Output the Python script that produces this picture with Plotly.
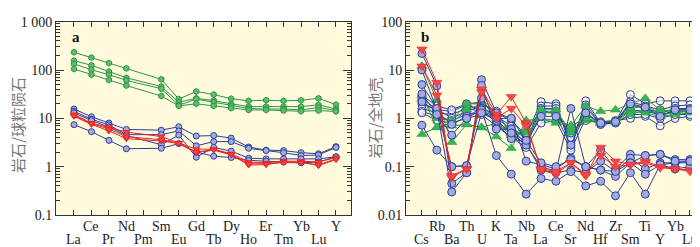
import plotly.graph_objects as go

# ---------------- Panel a: chondrite-normalised REE ----------------
ree = ["La", "Ce", "Pr", "Nd", "Pm", "Sm", "Eu", "Gd", "Tb", "Dy", "Ho", "Er", "Tm", "Yb", "Lu", "Y"]

a_green = [
    [233, 181, 139, 108, None, 64, 25, 36, 31, 25.5, 23, 23.7, 23, 23.7, 26, 19.2],
    [156, 125, 93, 69, None, 45.5, 21.6, 26, 23.3, 20, 17.5, 17.5, 17.5, 17.5, 19, 15.6],
    [134, 101, 80, 61, None, 41, 18.7, 25, 21.6, 18.1, 16, 15.6, 15.6, 14.9, 16.8, 14.5],
    [105, 80, 62, 47.6, None, 29, 18.1, 20, 18.1, 16.3, 14.9, 14.9, 14.5, 14, 14.5, 13.9],
]
a_blue = [
    [15.6, 10.8, 8.0, 5.9, None, 5.7, 6.7, 4.3, 4.4, 3.9, 2.55, 2.2, 2.15, 1.95, 1.85, 2.6],
    [14.0, 9.6, 7.3, 4.6, None, 4.6, 5.5, 2.7, 3.3, 3.3, 2.4, 2.15, 1.95, 1.7, 1.75, 2.5],
    [13.0, 9.0, 6.6, 4.4, None, 2.85, 4.5, 1.57, 2.5, 2.1, 1.5, 1.45, 1.45, 1.45, 1.45, 1.6],
    [7.4, 5.3, 3.5, 2.35, None, 2.4, 3.0, 2.0, 1.65, 1.55, 1.35, 1.3, 1.25, 1.2, 1.25, 1.6],
]
a_red = [
    [12.0, 8.0, 6.5, 5.2, None, 4.2, 3.1, 2.3, 2.3, 1.85, 1.25, 1.2, 1.3, 1.3, 1.25, 1.55],
    [11.0, 7.5, 5.5, 3.8, None, 3.4, 3.0, 1.95, 2.2, 1.75, 1.08, 1.1, 1.25, 1.25, 1.05, 1.4],
    [11.5, 7.8, 6.0, 4.2, None, 3.6, 3.1, 2.0, 2.25, 1.8, 1.15, 1.15, 1.22, 1.2, 1.1, 1.45],
]
a_ticks = [0.1, 1, 10, 100, 1000]
a_ticktext = ["0.1", "1", "10", "100", "1 000"]

# ---------------- Panel b: bulk-crust normalised spider ----------------
elems = ["Cs", "Rb", "Ba", "Th", "U", "K", "Ta", "Nb", "La", "Ce", "Sr", "Nd", "Hf", "Zr", "Sm", "Ti", "Y", "Yb", "Lu"]

b_green = [
    [12, 2.4, 0.32, 0.75, 0.65, 0.42, 0.24, 0.9, 1.0, 0.8, 0.7, 1.8, 1.4, 1.5, 2.0, 2.6, 1.5, 1.4, 1.6],
    [3.0, 0.65, 0.7, 0.75, 0.65, 0.8, 0.45, 0.55, 1.5, 1.5, 0.5, 0.9, 0.8, 0.85, 1.4, 1.3, 1.1, 1.2, 1.3],
    [0.47, 0.65, 0.8, 1.5, 2.0, 0.8, 0.5, 0.6, 1.3, 1.3, 0.6, 1.2, 0.8, 0.85, 1.2, 1.5, 1.2, 1.3, 1.4],
    [2.5, 1.0, 0.9, 2.0, 2.2, 1.2, 0.5, 0.5, 1.0, 0.9, 0.7, 1.0, 0.85, 0.9, 1.6, 1.8, 1.3, 1.5, 1.5],
]
b_blue_open = [
    [2.0, 1.5, 1.4, 1.9, 1.5, 1.3, 0.9, 0.45, 2.2, 2.0, 0.25, 2.3, 0.8, 0.85, 3.1, 2.0, 2.3, 2.3, 2.3],
    [1.6, 1.3, 1.2, 1.6, 1.4, 1.1, 0.7, 0.35, 1.8, 1.8, 0.3, 1.9, 0.78, 0.85, 2.2, 1.8, 1.5, 1.8, 1.9],
    [2.5, 1.6, 1.0, 1.4, 1.8, 1.0, 0.6, 0.3, 1.6, 1.6, 0.35, 1.7, 0.75, 0.82, 1.9, 1.6, 1.3, 1.6, 1.6],
    [1.4, 1.1, 0.9, 1.2, 1.3, 0.9, 0.5, 0.28, 1.3, 1.4, 0.4, 1.2, 0.8, 0.88, 1.5, 1.4, 1.2, 1.4, 1.4],
    [3.0, 1.8, 1.5, 2.0, 2.0, 1.4, 0.45, 0.5, 1.5, 1.2, 0.5, 0.9, 0.85, 0.9, 1.0, 1.1, 0.7, 1.0, 1.1],
    [1.3, 0.9, 0.8, 1.0, 1.2, 0.7, 0.4, 0.25, 0.8, 0.9, 0.22, 1.0, 0.75, 0.8, 1.2, 1.2, 1.0, 1.2, 1.2],
]
b_blue_fill = [
    [2.2, 1.4, 0.75, 1.1, 1.6, 0.8, 0.38, 0.32, 1.1, 1.1, 0.28, 1.3, 0.8, 0.85, 2.0, 1.7, 1.1, 1.5, 1.5],
    [22, 4.7, 0.045, 0.075, 6.3, 1.3, 1.0, 0.13, 0.11, 0.09, 0.15, 0.1, 0.22, 0.09, 0.18, 0.17, 0.18, 0.14, 0.14],
    [10, 1.5, 0.03, 0.075, 4.8, 0.6, 0.6, 0.3, 0.085, 0.075, 0.085, 0.075, 0.13, 0.08, 0.15, 0.09, 0.12, 0.12, 0.12],
    [5.0, 1.6, 0.1, 0.105, 2.6, 0.9, 0.5, 0.28, 0.1, 0.08, 1.6, 0.1, 0.085, 0.063, 0.12, 0.07, 0.11, 0.09, 0.1],
    [3.2, 1.2, 0.45, 1.0, 1.5, 0.17, 0.07, 0.027, 0.057, 0.05, 0.079, 0.04, 0.05, 0.025, 0.075, 0.027, 0.11, 0.12, 0.13],
    [0.72, 0.22, 0.1, 0.105, 1.3, 1.0, 1.0, 0.35, 0.12, 0.1, 0.14, 0.1, 0.085, 0.08, 0.12, 0.17, 0.18, 0.13, 0.13],
]
b_red = [
    [27, 5.5, 0.06, 0.09, 4.0, 1.2, 2.8, 0.8, 0.085, 0.07, 0.12, 0.065, 0.25, 0.13, 0.11, 0.13, 0.1, 0.09, 0.085],
    [12, 3.0, 0.065, 0.09, 3.5, 1.0, 1.6, 0.7, 0.09, 0.08, 0.12, 0.07, 0.17, 0.1, 0.11, 0.12, 0.095, 0.09, 0.08],
]
b_ticks = [0.01, 0.1, 1, 10, 100]
b_ticktext = ["0.01", "0.1", "1", "10", "100"]

GREEN_L, GREEN_F = "#2E9447", "#5DBB6A"
BLUE_L, BLUE_F = "#2B3C9C", "#A3ACDE"
RED_L, RED_F = "#E82525", "#F0474A"
BG = "#FFFBDC"
AX = "#333333"
SERIF = "Liberation Serif"


def minor_vals(decades):
    return [d * m for d in decades[:-1] for m in range(2, 10)]


fig = go.Figure()


def add(xs, ys, xa, ya, lc, fc, sym, size, lw=1.0, mlw=1.0):
    fig.add_trace(go.Scatter(
        x=xs, y=ys, xaxis=xa, yaxis=ya, mode="lines+markers", connectgaps=True,
        line=dict(color=lc, width=lw),
        marker=dict(symbol=sym, size=size, color=fc, line=dict(color=lc, width=mlw)),
        showlegend=False, hoverinfo="skip", cliponaxis=False))


ia = list(range(len(ree)))
for s in a_green:
    add(ia, s, "x", "y", GREEN_L, GREEN_F, "hexagon", 6)
for s in a_blue:
    add(ia, s, "x", "y", BLUE_L, BLUE_F, "circle", 6)
for s in a_red:
    add(ia, s, "x", "y", RED_L, RED_F, "triangle-down", 6)

ib = list(range(len(elems)))
for s in b_blue_open:
    add(ib, s, "x2", "y2", BLUE_L, "rgba(255,255,255,0.6)", "circle", 8)
for s in b_green:
    add(ib, s, "x2", "y2", GREEN_L, "#35B556", "triangle-up", 9, mlw=0.5)
for s in b_blue_fill:
    add(ib, s, "x2", "y2", BLUE_L, BLUE_F, "circle", 8)
for s in b_red:
    add(ib, s, "x2", "y2", RED_L, RED_F, "triangle-down", 9, mlw=0.5)

yb, yt = 1 - 213 / 247, 1 - 7 / 247

common_x = dict(ticks="inside", ticklen=5, tickcolor=AX, tickwidth=1, showticklabels=False,
                showline=True, linecolor=AX, linewidth=1, mirror="ticks",
                showgrid=False, zeroline=False)
common_y = dict(type="log", ticks="inside", ticklen=8, tickcolor=AX, tickwidth=1, showline=True,
                linecolor=AX, linewidth=1, mirror="ticks", showgrid=False, zeroline=False,
                ticklabeloverflow="allow",
                tickfont=dict(family=SERIF, size=14, color="#222"))

fig.update_layout(
    width=700, height=247, margin=dict(l=0, r=0, t=0, b=0),
    paper_bgcolor="white", plot_bgcolor=BG,
    xaxis=dict(domain=[48 / 700, 343 / 700], range=[-1.03, len(ree) - 1 + 0.86],
               tickvals=ia, anchor="y", **common_x),
    yaxis=dict(domain=[yb, yt], range=[-1.001, 3.002], anchor="x",
               tickvals=a_ticks, ticktext=a_ticktext,
               minor=dict(tickmode="array", tickvals=minor_vals(a_ticks), ticks="inside",
                          ticklen=4, tickcolor=AX, tickwidth=1, showgrid=False),
               **common_y),
    xaxis2=dict(domain=[398 / 700, 693 / 700], range=[-1.07, len(elems) - 1 + 0.74],
                tickvals=ib, anchor="y2", **common_x),
    yaxis2=dict(domain=[yb, yt], range=[-2.001, 2.002], anchor="x2",
                tickvals=b_ticks, ticktext=b_ticktext,
                minor=dict(tickmode="array", tickvals=minor_vals(b_ticks), ticks="inside",
                           ticklen=4, tickcolor=AX, tickwidth=1, showgrid=False),
                **common_y),
)

ann = []
ROW1, ROW2 = 1 - 225 / 247, 1 - 239.5 / 247
for i, lab in enumerate(ree):
    ann.append(dict(x=i, y=ROW1 if i % 2 else ROW2, xref="x", yref="paper",
                    text=lab, showarrow=False, font=dict(family=SERIF, size=14, color="#222"),
                    xanchor="center", yanchor="middle"))
for i, lab in enumerate(elems):
    ann.append(dict(x=i, y=ROW1 if i % 2 else ROW2, xref="x2", yref="paper",
                    text=lab, showarrow=False, font=dict(family=SERIF, size=14, color="#222"),
                    xanchor="center", yanchor="middle"))
ann.append(dict(x=62 / 700, y=1 - 23 / 247, xref="paper", yref="paper", text="<b>a</b>",
                showarrow=False, font=dict(family=SERIF, size=15, color="#111"),
                xanchor="left", yanchor="middle"))
ann.append(dict(x=411 / 700, y=1 - 23 / 247, xref="paper", yref="paper", text="<b>b</b>",
                showarrow=False, font=dict(family=SERIF, size=15, color="#111"),
                xanchor="left", yanchor="middle"))
ann.append(dict(x=10 / 700, y=1 - 117 / 247, xref="paper", yref="paper", text="岩石/球粒陨石",
                textangle=-90, showarrow=False,
                font=dict(family="Noto Sans CJK SC", size=15, color="#777"),
                xanchor="center", yanchor="middle"))
ann.append(dict(x=366 / 700, y=1 - 110 / 247, xref="paper", yref="paper", text="岩石/全地壳",
                textangle=-90, showarrow=False,
                font=dict(family="Noto Sans CJK SC", size=15, color="#777"),
                xanchor="center", yanchor="middle"))
fig.update_layout(annotations=ann)

fig.write_html("out.html")
